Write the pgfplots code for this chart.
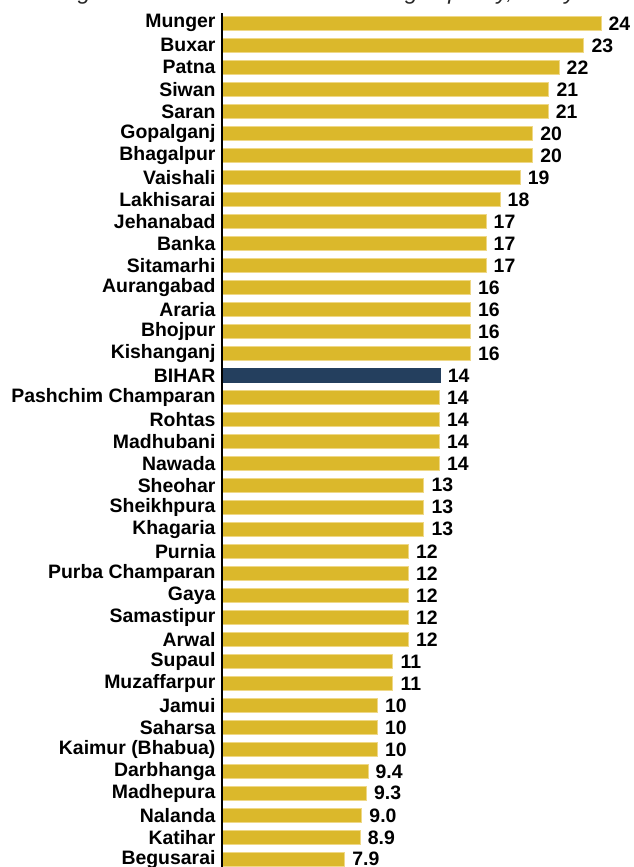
\documentclass[border=0pt]{standalone}
\usepackage{pgfplots}
\pgfplotsset{compat=1.18}
\usepackage{pgfplotstable}
\usepackage{fontspec}
\setmainfont{Liberation Sans}
\definecolor{gold}{HTML}{DBB82B}
\definecolor{goldedge}{HTML}{EFD886}
\definecolor{navy}{HTML}{243F5E}
\pgfplotstableread{
y x lab
0 24.4 24
1 23.3 23
2 21.7 22
3 21.05 21
4 21.0 21
5 20.0 20
6 20.0 20
7 19.2 19
8 17.9 18
9 17.0 17
10 17.0 17
11 17.0 17
12 16.0 16
13 16.0 16
14 16.0 16
15 16.0 16
17 14.0 14
18 14.0 14
19 14.0 14
20 14.0 14
21 13.0 13
22 13.0 13
23 13.0 13
24 12.0 12
25 12.0 12
26 12.0 12
27 12.0 12
28 12.0 12
29 11.0 11
30 11.0 11
31 10.0 10
32 10.0 10
33 10.0 10
34 9.4 9.4
35 9.3 9.3
36 9.0 9.0
37 8.9 8.9
38 7.9 7.9
}\golddata
\pgfplotstableread{
y x lab
16 14.05 14
}\bihardata
\begin{document}
\begin{tikzpicture}
\useasboundingbox (-222bp,0) rectangle (412bp,867bp);
\clip (-222bp,0) rectangle (412bp,867bp);
\node[anchor=base west, inner sep=0pt, font=\itshape\fontsize{23}{23}\selectfont, text=black!85] at (-236bp,867bp) {Percentage of adults with reduced working capacity, 18+ years};
\begin{axis}[
  at={(0,0)}, anchor=south west,
  scale only axis, width=412bp, height=854bp,
  xmin=0, xmax=26.53, ymin=-0.47, ymax=38.35,
  y dir=reverse, clip=false, axis on top,
  xbar, bar width=14bp, bar shift=0pt,
  axis x line=none, axis y line*=left,
  y axis line style={line width=2.6bp, black},
  ytick={0,...,38},
  yticklabels={Munger,Buxar,Patna,Siwan,Saran,Gopalganj,Bhagalpur,Vaishali,Lakhisarai,Jehanabad,Banka,Sitamarhi,Aurangabad,Araria,Bhojpur,Kishanganj,BIHAR,Pashchim Champaran,Rohtas,Madhubani,Nawada,Sheohar,Sheikhpura,Khagaria,Purnia,Purba Champaran,Gaya,Samastipur,Arwal,Supaul,Muzaffarpur,Jamui,Saharsa,Kaimur (Bhabua),Darbhanga,Madhepura,Nalanda,Katihar,Begusarai},
  major tick length=0pt, ytick style={draw=none},
  yticklabel style={font=\bfseries\fontsize{19.5}{20}\selectfont, xshift=-3bp},
  nodes near coords, point meta=explicit symbolic,
  nodes near coords style={font=\bfseries\fontsize{19.5}{20}\selectfont, anchor=west, xshift=4bp},
]
\addplot[fill=gold, draw=goldedge, line width=0.8bp] table[x=x, y=y, meta=lab] {\golddata};
\addplot[fill=navy, draw=navy, line width=0.8bp] table[x=x, y=y, meta=lab] {\bihardata};
\end{axis}
\end{tikzpicture}
\end{document}
